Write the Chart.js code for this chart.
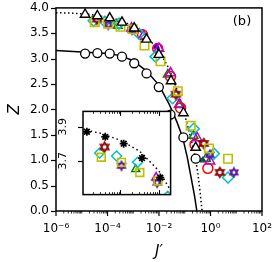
<!DOCTYPE html>
<html><head><meta charset="utf-8">
<script src="https://cdn.jsdelivr.net/npm/chart.js@4/dist/chart.umd.min.js"></script>
<style>
body{margin:0;background:#fff;}
#wrap{position:relative;width:274px;height:262px;}
#main{position:absolute;left:0;top:0;}
#inset{position:absolute;left:50px;top:104px;}
</style></head><body>
<div id="wrap"><canvas id="main" width="274" height="262"></canvas><canvas id="inset" width="128" height="98"></canvas></div>
<script>
// ---------- data ----------
const gridJ = [1.35e-5, 4.05e-5, 1.22e-4, 3.65e-4, 1.09e-3, 3.28e-3, 9.85e-3, 2.95e-2, 8.86e-2, 0.266];
const circleJ = [1.35e-5, 4.05e-5, 1.22e-4, 3.65e-4, 1.09e-3, 3.28e-3, 9.85e-3, 2.8e-2, 8.86e-2, 0.266];
const circleZ = [3.10, 3.11, 3.10, 3.04, 2.91, 2.71, 2.44, 1.9, 1.45, 1.03];
const triangleZ = [3.87, 3.84, 3.80, 3.715, 3.60, 3.38, 3.08, 2.56, 1.93, 1.25];
const squareJ = [3.2e-5, 1.07e-4, 3.2e-4, 9.5e-4, 2.75e-3, 1.15e-2, 5.4e-2, 0.17, 0.87, 4.8];
const squareZ = [3.72, 3.69, 3.63, 3.58, 3.26, 2.95, 2.36, 1.68, 1.23, 1.03];
const cyanJ = [2.9e-5, 8e-5, 2.8e-4, 1.7e-3, 7.4e-3, 3.4e-2, 0.224, 1.35, 4.8];
const cyanZ = [3.745, 3.727, 3.69, 3.49, 3.04, 2.22, 1.62, 1.13, 0.66];
const redJ = [2.3e-3, 8.9e-3, 2.8e-2, 6.9e-2, 0.25, 0.79];
const redZ = [3.47, 3.2, 2.65, 2.03, 1.31, 0.84];
const magentaJ = [8.5e-4, 2.5e-3, 1e-2, 2.8e-2, 6.3e-2, 0.3, 0.95];
const magentaZ = [3.6, 3.45, 3.2, 2.72, 2.1, 1.44, 0.98];
const darkredJ = [3.9e-5, 4.5e-2, 0.55, 2.3];
const darkredZ = [3.78, 2.3, 1.33, 0.76];
const purpleJ = [1.07e-4, 9e-4, 0.95, 8.1];
const purpleZ = [3.67, 3.57, 1.11, 0.76];
const greenJ = [2.5e-4, 2.2e-2, 5.9e-2, 0.22, 0.66];
const greenZ = [3.65, 2.69, 2.09, 1.48, 1.03];
const blueJ = [7.9e-3, 0.5];
const blueZ = [3.24, 1.0];
// theory curves
const dottedJ = [1e-6, 3.2e-6, 1e-5, 3.2e-5, 1e-4, 3.2e-4, 1e-3, 3.2e-3, 1e-2, 2.5e-2, 6.3e-2, 0.126, 0.2, 0.27, 0.33, 0.4, 0.47];
const dottedZ = [3.905, 3.9, 3.885, 3.86, 3.82, 3.755, 3.64, 3.45, 3.15, 2.8, 2.25, 1.7, 1.3, 1.0, 0.7, 0.35, 0.0];
const solidJ = [1e-6, 1e-5, 3.2e-5, 1e-4, 3.2e-4, 1e-3, 3.2e-3, 1e-2, 2.5e-2, 5e-2, 8.3e-2, 0.126, 0.178, 0.24, 0.295];
const solidZ = [3.16, 3.13, 3.115, 3.10, 3.06, 2.96, 2.76, 2.48, 2.1, 1.75, 1.45, 1.05, 0.65, 0.3, 0.0];
const yTicks = [0, 0.5, 1, 1.5, 2, 2.5, 3, 3.5, 4];
const xTicks = [1e-6, 1e-4, 1e-2, 1, 1e2];
const insetYTicks = [3.7, 3.9];
const insetXMajor = [1e-4, 1e-3];

// ---------- helpers ----------
const pts = (J, Z) => J.map((v, i) => ({x: v, y: Z[i]}));
function hexagram(color, size, lw) {
  const c = document.createElement('canvas'); c.width = c.height = size;
  const g = c.getContext('2d'); g.strokeStyle = color; g.lineWidth = lw;
  const r = size / 2 - lw, cx = size / 2, cy = size / 2;
  [0, Math.PI].forEach(off => {
    g.beginPath();
    for (let i = 0; i < 3; i++) {
      const a = off - Math.PI / 2 + i * 2 * Math.PI / 3;
      const px = cx + r * Math.cos(a), py = cy + r * Math.sin(a);
      i ? g.lineTo(px, py) : g.moveTo(px, py);
    }
    g.closePath(); g.stroke();
  });
  return c;
}
const sup = {'-': '⁻', '0': '⁰', '1': '¹', '2': '²', '3': '³', '4': '⁴', '5': '⁵', '6': '⁶', '7': '⁷', '8': '⁸', '9': '⁹'};
const fmtPow = v => '10' + String(Math.round(Math.log10(v))).split('').map(ch => sup[ch]).join('');

Chart.defaults.font.family = 'DejaVu Sans';
Chart.defaults.color = '#000';

function scatterSet(label, data, style, color, r, bw, fill) {
  return {label, data, showLine: false, pointStyle: style, pointRadius: r, pointHoverRadius: r,
    borderColor: color, pointBorderColor: color, pointBackgroundColor: fill || 'rgba(0,0,0,0)',
    pointBorderWidth: bw, backgroundColor: fill || 'rgba(0,0,0,0)'};
}
function lineSet(label, data, dash) {
  return {label, data, showLine: true, pointRadius: 0, borderColor: '#000', borderWidth: 1.5,
    borderDash: dash || [], tension: 0, fill: false};
}

const darkredMark = hexagram('#8b0000', 13, 1.4);
const purpleMark = hexagram('#5b1a9a', 12, 1.6);

// ---------- main chart ----------
const mainDeco = {
  id: 'mainDeco',
  afterDraw(chart) {
    const {ctx, chartArea: a, scales: {x, y}} = chart;
    ctx.save();
    ctx.strokeStyle = '#000';
    ctx.lineWidth = 1.2;
    const seg = (x1, y1, x2, y2) => { ctx.beginPath(); ctx.moveTo(x1, y1); ctx.lineTo(x2, y2); ctx.stroke(); };
    yTicks.forEach(v => { const p = Math.round(y.getPixelForValue(v)) + 0.5; seg(a.left - 5, p, a.left, p); });
    for (let e = -6; e <= 2; e++) {
      for (let m = 1; m < 10; m++) {
        const v = m * Math.pow(10, e);
        if (v > 1e2 * 1.0001) break;
        const p = x.getPixelForValue(v);
        const major = (m === 1 && e % 2 === 0);
        ctx.lineWidth = major ? 1.2 : 0.8;
        seg(p, a.bottom, p, a.bottom + (major ? 5 : 2.5));
      }
    }
    ctx.lineWidth = 1.5;
    ctx.strokeRect(a.left, a.top, a.right - a.left, a.bottom - a.top);
    ctx.fillStyle = '#000';
    ctx.font = '13px "DejaVu Sans"';
    ctx.textAlign = 'center'; ctx.textBaseline = 'middle';
    ctx.fillText('(b)', 242, 22);
    ctx.restore();
  }
};

new Chart(document.getElementById('main'), {
  type: 'scatter',
  data: {datasets: [
    scatterSet('triangles', pts(gridJ, triangleZ), 'triangle', '#000', 5.5, 1.4, '#fff'),
    scatterSet('circles', pts(circleJ, circleZ), 'circle', '#000', 4.5, 1.3, '#fff'),
    scatterSet('squares', pts(squareJ, squareZ), 'rect', '#bfbf00', 6, 1.6),
    scatterSet('purple', pts(purpleJ, purpleZ), purpleMark, '#5b1a9a', 6, 1.4),
    scatterSet('darkred', pts(darkredJ, darkredZ), darkredMark, '#8b0000', 6.5, 1.4),
    scatterSet('cyan', pts(cyanJ, cyanZ), 'rectRot', '#00bfbf', 5.5, 1.5),
    scatterSet('magenta', pts(magentaJ, magentaZ), 'triangle', '#bf00bf', 5.5, 1.5),
    scatterSet('red', pts(redJ, redZ), 'circle', '#ff0000', 5, 1.5),
    scatterSet('green', pts(greenJ, greenZ), 'triangle', '#008000', 5, 1.5),
    scatterSet('blue', pts(blueJ, blueZ), 'triangle', '#0000ff', 3.5, 1, '#0000ff'),
    lineSet('solid', pts(solidJ, solidZ)),
    lineSet('dotted', pts(dottedJ, dottedZ), [1.5, 2.5])
  ]},
  options: {
    responsive: false, animation: false, devicePixelRatio: 1,
    layout: {padding: {top: 6, right: 12, left: 0, bottom: 0}},
    plugins: {legend: {display: false}, tooltip: {enabled: false}},
    scales: {
      x: {type: 'logarithmic', min: 1e-6, max: 1e2,
        afterBuildTicks: s => { s.ticks = xTicks.map(v => ({value: v})); },
        afterFit: s => { s.height = 51; s.paddingLeft = 0; s.paddingRight = 0; },
        grid: {display: false, drawTicks: false}, border: {display: false},
        ticks: {autoSkip: false, maxRotation: 0, padding: 11, font: {size: 12}, callback: v => fmtPow(v)},
        title: {display: true, text: 'J′', font: {size: 15, style: 'italic'}, padding: {bottom: 1, top: 0}}
      },
      y: {type: 'linear', min: 0, max: 4,
        afterFit: s => { s.width = 56; s.paddingTop = 0; s.paddingBottom = 0; },
        grid: {display: false, drawTicks: false}, border: {display: false},
        ticks: {stepSize: 0.5, padding: 7, font: {size: 12}, callback: v => v.toFixed(1)},
        title: {display: true, text: 'Z', font: {size: 15, style: 'italic'}, padding: {top: 6, bottom: 0}}
      }
    }
  },
  plugins: [mainDeco]
});

// ---------- inset ----------
const insetDeco = {
  id: 'insetDeco',
  beforeDatasetsDraw(chart) {
    const {ctx, chartArea: a} = chart;
    ctx.save(); ctx.fillStyle = '#fff';
    ctx.fillRect(a.left, a.top, a.right - a.left, a.bottom - a.top);
    ctx.restore();
  },
  afterDraw(chart) {
    const {ctx, chartArea: a, scales: {x, y}} = chart;
    ctx.save();
    ctx.strokeStyle = '#000';
    const seg = (x1, y1, x2, y2) => { ctx.beginPath(); ctx.moveTo(x1, y1); ctx.lineTo(x2, y2); ctx.stroke(); };
    ctx.lineWidth = 1.2;
    insetYTicks.forEach(v => { const p = Math.round(y.getPixelForValue(v)) + 0.5; seg(a.left - 5, p, a.left, p); });
    for (let e = -5; e <= -3; e++) {
      for (let m = 1; m < 10; m++) {
        const v = m * Math.pow(10, e);
        if (v < x.min || v > x.max) continue;
        const p = Math.round(x.getPixelForValue(v)) + 0.5;
        const major = insetXMajor.some(t => Math.abs(t - v) / t < 1e-6);
        const len = major ? 4.5 : 2.5;
        ctx.lineWidth = major ? 1.1 : 0.8;
        seg(p, a.bottom, p, a.bottom - len);
        seg(p, a.top, p, a.top + len);
      }
    }
    ctx.lineWidth = 1.5;
    ctx.strokeRect(a.left, a.top, a.right - a.left, a.bottom - a.top);
    ctx.fillStyle = '#000';
    ctx.font = '11px "DejaVu Sans"';
    ctx.textAlign = 'center'; ctx.textBaseline = 'middle';
    insetYTicks.forEach(v => {
      const p = y.getPixelForValue(v);
      ctx.save(); ctx.translate(a.left - 20, p); ctx.rotate(-Math.PI / 2);
      ctx.fillText(v.toFixed(1), 0, 0); ctx.restore();
    });
    ctx.restore();
  }
};

new Chart(document.getElementById('inset'), {
  type: 'scatter',
  data: {datasets: [
    scatterSet('stars', pts(gridJ, triangleZ), 'star', '#000', 4, 1.7),
    scatterSet('squares', pts(squareJ, squareZ), 'rect', '#bfbf00', 5.5, 1.6),
    scatterSet('purple', pts(purpleJ, purpleZ), purpleMark, '#5b1a9a', 5.5, 1.4),
    scatterSet('darkred', pts(darkredJ, darkredZ), darkredMark, '#8b0000', 6, 1.4),
    scatterSet('cyan', pts(cyanJ, cyanZ), 'rectRot', '#00bfbf', 5, 1.5),
    scatterSet('magenta', pts(magentaJ, magentaZ), 'triangle', '#bf00bf', 5, 1.5),
    scatterSet('green', pts(greenJ, greenZ), 'triangle', '#008000', 4.5, 1.5),
    lineSet('dotted', pts(dottedJ, dottedZ), [1.5, 3])
  ]},
  options: {
    responsive: false, animation: false, devicePixelRatio: 1,
    layout: {padding: {top: 4, right: 4, left: 33, bottom: 4}},
    plugins: {legend: {display: false}, tooltip: {enabled: false}},
    scales: {
      x: {type: 'logarithmic', min: 1.07e-5, max: 2.02e-3, display: false},
      y: {type: 'linear', min: 3.5, max: 3.99, display: false}
    }
  },
  plugins: [insetDeco]
});
</script>
</body></html>
